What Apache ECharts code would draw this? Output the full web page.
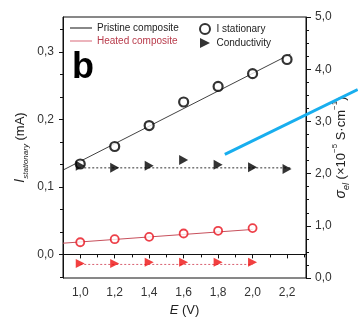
<!DOCTYPE html>
<html><head><meta charset="utf-8">
<script src="https://cdn.jsdelivr.net/npm/echarts@6/dist/echarts.min.js"></script>
<style>html,body{margin:0;padding:0;background:#fff}#c{width:358px;height:321px}</style>
</head><body><div id="c"></div><script>
// ---- data ----
const voltage = [1.0, 1.2, 1.4, 1.6, 1.8, 2.0, 2.2];
const voltageHeated = [1.0, 1.2, 1.4, 1.6, 1.8, 2.0];
const iPristine = [0.134, 0.160, 0.191, 0.226, 0.249, 0.268, 0.289];
const condPristine = [2.15, 2.11, 2.15, 2.26, 2.17, 2.12, 2.09];
const iHeated = [0.018, 0.0225, 0.026, 0.031, 0.035, 0.039];
const condHeated = [0.28, 0.28, 0.30, 0.30, 0.30, 0.30];
const fitPristineX = [0.9, 2.22];
const fitPristineY = [0.125, 0.297];
const fitHeatedX = [0.9, 2.0];
const fitHeatedY = [0.0166, 0.037];
const condLevelPristineX = [1.0, 2.22];
const condLevelPristineY = [2.11, 2.11];
const condLevelHeatedX = [1.0, 2.0];
const condLevelHeatedY = [0.26, 0.26];
const annotationX = [1.839, 2.61];
const annotationY = [2.37, 3.61];
// ---- tick labels ----
const xTickLabels = [1.0, 1.2, 1.4, 1.6, 1.8, 2.0, 2.2];
const xMinorTicks = [0.9, 1.1, 1.3, 1.5, 1.7, 1.9, 2.1, 2.3];
const yLeftLabels = [0.0, 0.1, 0.2, 0.3];
const yLeftMinorTicks = [-0.0333, 0.0333, 0.0667, 0.1333, 0.1667, 0.2333, 0.2667, 0.3333];
const yRightLabels = [0, 1, 2, 3, 4, 5];

const zip = (a, b) => a.map((v, i) => [v, b[i]]);
const FONT = "'Liberation Sans', Arial, sans-serif";
const fmt = v => Number(v).toFixed(1).replace('.', ',');
const triPath = 'path://M0,0 L10,5 L0,10 Z';

const chart = echarts.init(document.getElementById('c'), null, {renderer: 'canvas'});
chart.setOption({
  animation: false,
  backgroundColor: '#fff',
  textStyle: {fontFamily: FONT},
  grid: {left: 63, right: 52, top: 17, bottom: 43, show: true, borderColor: '#111', borderWidth: 1,
         backgroundColor: 'transparent', containLabel: false, outerBoundsMode: 'none'},
  graphic: [{
    type: 'text', left: 72, top: 50,
    style: {text: 'b', font: "bold 36px " + FONT, fill: '#000'}
  }],
  legend: [{
    left: 70, top: 23, orient: 'vertical', padding: 0, itemGap: 3,
    itemWidth: 22, itemHeight: 1, icon: 'rect',
    textStyle: {fontSize: 10, color: '#222', fontFamily: FONT, lineHeight: 10},
    data: [{name: 'Pristine composite'}, {name: 'Heated composite', textStyle: {color: '#b83a4a'}}]
  }, {
    left: 199, top: 23, orient: 'vertical', padding: 0, itemGap: 3,
    itemWidth: 13, itemHeight: 10,
    textStyle: {fontSize: 10, color: '#222', fontFamily: FONT, lineHeight: 10},
    data: ['I stationary', 'Conductivity']
  }],
  xAxis: [{
    type: 'value', min: 0.9, max: 2.31, position: 'bottom',
    name: '{e|E}{n| (V)}', nameLocation: 'middle', nameGap: 26, nameMoveOverlap: false,
    nameTextStyle: {rich: {e: {fontSize: 13, fontStyle: 'italic', color: '#222', fontFamily: FONT}, n: {fontSize: 13, color: '#222', fontFamily: FONT}}},
    axisLine: {show: true, lineStyle: {color: '#111', width: 1}},
    axisTick: {show: true, inside: false, length: 4, customValues: xTickLabels, lineStyle: {color: '#111'}},
    axisLabel: {customValues: xTickLabels, formatter: fmt, fontSize: 12, color: '#333', margin: 9, fontFamily: FONT},
    splitLine: {show: false}
  }, {
    type: 'value', min: 0.9, max: 2.31, position: 'bottom',
    axisLine: {show: false},
    axisTick: {show: true, length: 3, customValues: xMinorTicks, lineStyle: {color: '#111'}},
    axisLabel: {show: false},
    splitLine: {show: false}
  }],
  yAxis: [{
    type: 'value', min: -0.035, max: 0.352, position: 'left',
    name: '{i|I}{sub|stationary}{n| (mA)}', nameLocation: 'middle', nameGap: 33, nameRotate: 90, nameMoveOverlap: false,
    nameTextStyle: {rich: {
      i: {fontSize: 14, fontStyle: 'italic', color: '#222', lineHeight: 20, verticalAlign: 'middle', fontFamily: FONT},
      sub: {fontSize: 8, fontStyle: 'italic', color: '#222', lineHeight: 8, verticalAlign: 'bottom', fontFamily: FONT},
      n: {fontSize: 13, color: '#222', lineHeight: 20, verticalAlign: 'middle', fontFamily: FONT}
    }},
    axisLine: {show: true, lineStyle: {color: '#111', width: 1}},
    axisTick: {show: true, length: 4, customValues: yLeftLabels, lineStyle: {color: '#111'}},
    axisLabel: {customValues: yLeftLabels, formatter: fmt, fontSize: 12, color: '#333', margin: 9, fontFamily: FONT},
    splitLine: {show: false}
  }, {
    type: 'value', min: -0.035, max: 0.352, position: 'left',
    axisLine: {show: false},
    axisTick: {show: true, length: 3, customValues: yLeftMinorTicks, lineStyle: {color: '#111'}},
    axisLabel: {show: false},
    splitLine: {show: false}
  }, {
    type: 'value', min: 0, max: 5, interval: 1, position: 'right',
    name: '{s|σ}{sub|el}{n| (×10}{sup|−5}{n| S·cm}{sup|−1}{n|)}', nameLocation: 'middle', nameGap: 25, nameRotate: 90, nameMoveOverlap: false,
    nameTextStyle: {rich: {
      s: {fontSize: 14, fontStyle: 'italic', color: '#222', lineHeight: 20, verticalAlign: 'middle', fontFamily: FONT},
      sub: {fontSize: 9, fontStyle: 'italic', color: '#222', lineHeight: 9, verticalAlign: 'bottom', fontFamily: FONT},
      sup: {fontSize: 8, color: '#222', lineHeight: 8, verticalAlign: 'top', fontFamily: FONT},
      n: {fontSize: 13, color: '#222', lineHeight: 20, verticalAlign: 'middle', fontFamily: FONT}
    }},
    axisLine: {show: true, lineStyle: {color: '#111', width: 1}},
    axisTick: {show: true, length: 5, lineStyle: {color: '#111'}},
    minorTick: {show: true, splitNumber: 4, length: 3, lineStyle: {color: '#111'}},
    axisLabel: {formatter: fmt, fontSize: 12, color: '#333', margin: 9, fontFamily: FONT},
    splitLine: {show: false}, minorSplitLine: {show: false}
  }],
  series: [{
    name: 'Pristine composite', type: 'line', xAxisIndex: 0, yAxisIndex: 0,
    data: zip(fitPristineX, fitPristineY), symbol: 'none',
    lineStyle: {color: '#111', width: 0.8}, itemStyle: {color: '#111'}, z: 3
  }, {
    name: 'Heated composite', type: 'line', xAxisIndex: 0, yAxisIndex: 0,
    data: zip(fitHeatedX, fitHeatedY), symbol: 'none',
    lineStyle: {color: '#c8505c', width: 1}, itemStyle: {color: '#d86878'}, z: 3
  }, {
    name: 'Pristine conductivity level', type: 'line', xAxisIndex: 0, yAxisIndex: 2,
    data: zip(condLevelPristineX, condLevelPristineY), symbol: 'none',
    lineStyle: {color: '#333', width: 1, type: [2, 2]}, z: 3
  }, {
    name: 'Heated conductivity level', type: 'line', xAxisIndex: 0, yAxisIndex: 2,
    data: zip(condLevelHeatedX, condLevelHeatedY), symbol: 'none',
    lineStyle: {color: '#d86070', width: 1, type: [2, 2]}, z: 3
  }, {
    name: 'I stationary', type: 'scatter', xAxisIndex: 0, yAxisIndex: 0,
    data: zip(voltage, iPristine), symbol: 'circle', symbolSize: 9,
    itemStyle: {color: '#fff', borderColor: '#000', borderWidth: 2.2}, z: 5
  }, {
    name: 'Conductivity', type: 'scatter', xAxisIndex: 0, yAxisIndex: 2,
    data: zip(voltage, condPristine), symbol: triPath, symbolSize: [9, 10],
    itemStyle: {color: '#000'}, z: 5
  }, {
    name: 'I stationary heated', type: 'scatter', xAxisIndex: 0, yAxisIndex: 0,
    data: zip(voltageHeated, iHeated), symbol: 'circle', symbolSize: 8,
    itemStyle: {color: '#fff', borderColor: '#e8101c', borderWidth: 1.8}, z: 5
  }, {
    name: 'Conductivity heated', type: 'scatter', xAxisIndex: 0, yAxisIndex: 2,
    data: zip(voltageHeated, condHeated), symbol: triPath, symbolSize: [9, 9],
    itemStyle: {color: '#ee1010'}, z: 5
  }, {
    name: 'Annotation', type: 'custom', xAxisIndex: 0, yAxisIndex: 2, clip: false, z: 10,
    data: [[annotationX[0], annotationY[0], annotationX[1], annotationY[1]]],
    encode: {x: [0, 2], y: [1, 3]},
    renderItem: function (params, api) {
      const p1 = api.coord([api.value(0), api.value(1)]);
      const p2 = api.coord([api.value(2), api.value(3)]);
      return {
        type: 'line',
        shape: {x1: p1[0], y1: p1[1], x2: p2[0], y2: p2[1]},
        style: {stroke: '#18aeee', lineWidth: 3}
      };
    }
  }]
});
</script></body></html>
